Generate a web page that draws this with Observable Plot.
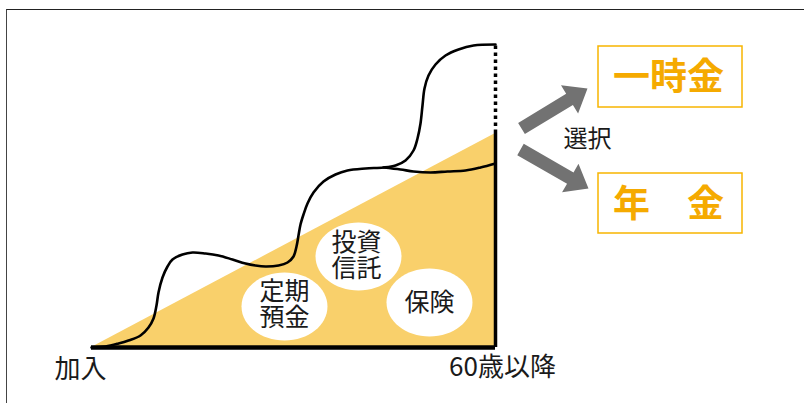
<!DOCTYPE html>
<html><head><meta charset="utf-8">
<script src="https://cdn.jsdelivr.net/npm/d3@7"></script>
<script src="https://cdn.jsdelivr.net/npm/@observablehq/plot@0.6"></script>
<style>
html,body{margin:0;padding:0;background:#fff;}
#wrap{position:relative;width:804px;height:403px;overflow:hidden;}
#frame{position:absolute;left:6px;top:9px;right:-10px;bottom:-10px;border-top:1.5px solid #222;border-left:1.5px solid #444;}
#chart{position:absolute;left:0;top:0;}
</style></head>
<body><div id="wrap"><div id="frame"></div><div id="chart"></div></div>
<script>
// Accumulation curve (x: time from joining, y: amount)
const curveX = [0,14,27,37,49,57,62,65,67,71,76,81,91,101,114,127,141,154,164,174,187,196,202,205,207,209,212,216,222,232,244,256,274,292,304,314,322,326,329,331,333,337,344,354,367,382,404];
const curveY = [0,1,4,7,12,20,29,42,55,70,81,88,93,95,94,92,88,84,82,81,82,85,91,101,112,123,133,144,155,166,173,177,179,180,182,187,197,209,224,242,259,272,283,292,298,302,303];
// Lower branch after the last plateau
const branchX = [292,309,322,339,356,374,389,404];
const branchY = [180,178,176,175,176,177,180,184];
// Triangle (steady accumulation)
const triX = [0,404];
const triY = [0,214];
const endX = 404;
const endTop = 303;
// Products in bubbles (one row per text line)
const prodX = [193,267,338];
const prodY = [41,91,45];
const prodLines = ["定期","預金","投資","信託","保険"];
const prodLineX = [193,193,265,265,338];
const prodLineY = [56,30,105,79,45];
// Axis labels
const stageLabels = ["加入","60歳以降"];
const stageX = [-11,411];
const stageY = [-22,-20];
// Choice boxes
const choices = ["一時金","年　金"];
const boxX1 = [507,507], boxX2 = [651,651];
const boxY1 = [240,114], boxY2 = [301,174];
const choiceX = [577,577], choiceY = [269,142];
const selectLabel = "選択";
const selectX = 496, selectY = 208;
// Arrows: start and tip
const arrowX1 = [430,429], arrowY1 = [219,198];
const arrowX2 = [496,497], arrowY2 = [259,159];

const curve = curveX.map((x,i)=>({x, y:curveY[i]}));
const branch = branchX.map((x,i)=>({x, y:branchY[i]}));
const tri = triX.map((x,i)=>({x, y:triY[i]}));
const prods = prodX.map((x,i)=>({x, y:prodY[i]}));
const plines = prodLines.map((t,i)=>({t, x:prodLineX[i], y:prodLineY[i]}));
const stages = stageLabels.map((t,i)=>({t, x:stageX[i], y:stageY[i]}));
const boxes = choices.map((t,i)=>({t, x1:boxX1[i], x2:boxX2[i], y1:boxY1[i], y2:boxY2[i], tx:choiceX[i], ty:choiceY[i]}));

function arrowPoly(k){
  const x1=arrowX1[k], y1=arrowY1[k], x2=arrowX2[k], y2=arrowY2[k];
  const dx=x2-x1, dy=y2-y1, L=Math.hypot(dx,dy), ux=dx/L, uy=dy/L, px=-uy, py=ux;
  const s=6.5, h=16.5, hl=21;
  const bx=x2-ux*hl, by=y2-uy*hl;
  const pts=[[x1+px*s,y1+py*s],[bx+px*s,by+py*s],[bx+px*h,by+py*h],[x2,y2],[bx-px*h,by-py*h],[bx-px*s,by-py*s],[x1-px*s,y1-py*s],[x1+px*s,y1+py*s]];
  return pts.map(([x,y])=>({x,y,id:k}));
}
const arrows = [...arrowPoly(0), ...arrowPoly(1)];

const ellipse = {draw(ctx){
  const rx=43, ry=34, k=0.5523;
  ctx.moveTo(rx,0);
  ctx.bezierCurveTo(rx,ry*k,rx*k,ry,0,ry);
  ctx.bezierCurveTo(-rx*k,ry,-rx,ry*k,-rx,0);
  ctx.bezierCurveTo(-rx,-ry*k,-rx*k,-ry,0,-ry);
  ctx.bezierCurveTo(rx*k,-ry,rx,-ry*k,rx,0);
  ctx.closePath();
}};

const font = "'Noto Sans CJK JP','Noto Sans',sans-serif";
const chart = Plot.plot({
  width: 804, height: 403,
  marginLeft: 91, marginRight: 309, marginTop: 44, marginBottom: 56,
  x: {domain:[0,404], axis:null},
  y: {domain:[0,303], axis:null},
  style: {fontFamily: font, background: "transparent", overflow: "visible"},
  marks: [
    Plot.areaY(tri, {x:"x", y:"y", fill:"#F9D06B", curve:"linear"}),
    Plot.dot(prods, {x:"x", y:"y", symbol: ellipse, r: 10, fill:"#fff", stroke:"none"}),
    Plot.text(plines, {x:"x", y:"y", text:"t", fontSize:25, fill:"#1a1a1a"}),
    Plot.line(curve, {x:"x", y:"y", curve:"catmull-rom", stroke:"#000", strokeWidth:2.6}),
    Plot.line(branch, {x:"x", y:"y", curve:"catmull-rom", stroke:"#000", strokeWidth:2.6}),
    Plot.ruleX([endX], {y1:triY[1], y2:endTop, stroke:"#000", strokeWidth:3.5, strokeDasharray:"3.5,3.5"}),
    Plot.ruleX([endX], {y1:0, y2:triY[1], stroke:"#000", strokeWidth:3.5}),
    Plot.ruleY([0], {x1:0, x2:endX, stroke:"#000", strokeWidth:4.5}),
    Plot.text(stages, {x:"x", y:"y", text:"t", fontSize:26, fill:"#1a1a1a"}),
    Plot.line(arrows, {x:"x", y:"y", z:"id", fill:"#727272", stroke:"none", curve:"linear"}),
    Plot.text([selectLabel], {x:selectX, y:selectY, text:d=>d, fontSize:24, fill:"#1a1a1a"}),
    Plot.rect(boxes, {x1:"x1", x2:"x2", y1:"y1", y2:"y2", fill:"#fff", stroke:"#F7B500", strokeWidth:1.5}),
    Plot.text(boxes, {x:"tx", y:"ty", text:"t", fontSize:37, fontWeight:"bold", fill:"#F5AA00"})
  ]
});
document.getElementById("chart").appendChild(chart);
</script></body></html>
